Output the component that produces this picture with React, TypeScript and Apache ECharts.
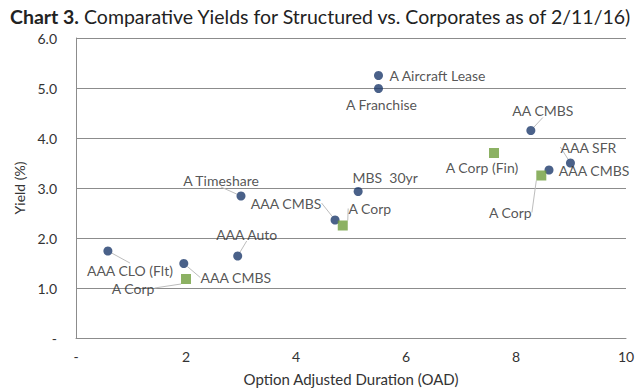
import React, { useEffect, useRef } from "react";
import * as echarts from "echarts";

const structuredNames = [
  "AAA CLO (Flt)", "AAA CMBS", "AAA Auto", "A Timeshare", "AAA CMBS", "MBS  30yr",
  "A Franchise", "A Aircraft Lease", "AA CMBS", "AAA CMBS", "AAA SFR",
];
const structuredOAD = [0.58, 1.96, 2.94, 3.0, 4.71, 5.13, 5.5, 5.5, 8.27, 8.6, 8.99];
const structuredYield = [1.74, 1.49, 1.64, 2.84, 2.36, 2.93, 4.99, 5.25, 4.15, 3.36, 3.5];

const corpNames = ["A Corp", "A Corp", "A Corp (Fin)", "A Corp"];
const corpOAD = [2.0, 4.85, 7.6, 8.46];
const corpYield = [1.18, 2.25, 3.7, 3.25];

const xTicks = [0, 2, 4, 6, 8, 10];
const yTicks = [0, 1, 2, 3, 4, 5, 6];

// label placement (offsets from the marker, in px) and whether a leader line is drawn
const structuredLabelPos: [number, number, boolean][] = [
  [22, 19, true], [52, 14, true], [9, -22, true], [-20, -16, true], [-49, -17, true],
  [27, -14, false], [3, 16, false], [59, 0, false], [12, -20, true], [45, 0, false], [18, -16, true],
];
const corpLabelPos: [number, number, boolean][] = [
  [-53, 9, true], [27, -17, true], [-12, 14, false], [-31, 37, true],
];

const FONT = "Lato, 'Open Sans', sans-serif";
const NAVY = "#1d3a6b";
const GREEN = "#6f9e3c";

export default function App() {
  const ref = useRef<HTMLDivElement>(null);
  useEffect(() => {
    if (!ref.current) return;
    const chart = echarts.init(ref.current, undefined, { renderer: "svg" });
    const mk = (names: string[], xs: number[], ys: number[], pos: [number, number, boolean][]) =>
      names.map((n, i) => ({
        name: n,
        value: [xs[i], ys[i]],
        labelLine: { show: pos[i][2] },
      }));
    const layoutFor = (pos: [number, number, boolean][]) => (p: any) => ({
      dx: pos[p.dataIndex][0],
      dy: pos[p.dataIndex][1],
    });
    const labelCommon = {
      show: true,
      position: "inside",
      formatter: (p: any) => p.name,
      color: "#2a2a2a",
      fontSize: 14,
      fontFamily: FONT,
    };
    const labelLineCommon = {
      show: true,
      lineStyle: { color: "#bdbdbd", width: 1 },
    };
    chart.setOption({
      animation: false,
      backgroundColor: "#ffffff",
      title: {
        text: "{b|Chart 3.} {n|Comparative Yields for Structured vs. Corporates as of 2/11/16)}",
        left: 5,
        top: 1,
        textStyle: {
          rich: {
            b: { fontFamily: FONT, fontWeight: "bold", fontSize: 19.5, color: "#222" },
            n: { fontFamily: FONT, fontWeight: "normal", fontSize: 19.5, color: "#222" },
          },
        },
      },
      grid: { left: 76, right: 14, top: 38, bottom: 53 },
      xAxis: {
        type: "value",
        min: 0,
        max: 10,
        interval: 2,
        name: "Option Adjusted Duration (OAD)",
        nameLocation: "middle",
        nameGap: 33,
        nameTextStyle: { fontFamily: FONT, fontSize: 15, color: "#333" },
        axisLine: { show: true, lineStyle: { color: "#8c8c8c" } },
        axisTick: { show: false },
        splitLine: { show: false },
        axisLabel: {
          margin: 11,
          fontFamily: FONT,
          fontSize: 14,
          color: "#333",
          formatter: (v: number) => (xTicks.includes(v) ? (v === 0 ? "-" : String(v)) : ""),
        },
      },
      yAxis: {
        type: "value",
        min: 0,
        max: 6,
        interval: 1,
        name: "Yield (%)",
        nameLocation: "middle",
        nameGap: 50,
        nameTextStyle: { fontFamily: FONT, fontSize: 14, color: "#333" },
        axisLine: { show: true, lineStyle: { color: "#8c8c8c" } },
        axisTick: { show: false },
        splitLine: { show: true, lineStyle: { color: "#8c8c8c", width: 1 } },
        axisLabel: {
          margin: 19,
          fontFamily: FONT,
          fontSize: 14,
          color: "#333",
          formatter: (v: number) => (yTicks.includes(v) ? (v === 0 ? "-" : v.toFixed(1)) : ""),
        },
      },
      series: [
        {
          name: "Structured",
          type: "scatter",
          symbol: "circle",
          symbolSize: 9,
          itemStyle: { color: NAVY },
          data: mk(structuredNames, structuredOAD, structuredYield, structuredLabelPos),
          label: labelCommon,
          labelLine: labelLineCommon,
          labelLayout: layoutFor(structuredLabelPos),
          z: 3,
        },
        {
          name: "Corporates",
          type: "scatter",
          symbol: "rect",
          symbolSize: 10,
          itemStyle: { color: GREEN },
          data: mk(corpNames, corpOAD, corpYield, corpLabelPos),
          label: labelCommon,
          labelLine: labelLineCommon,
          labelLayout: layoutFor(corpLabelPos),
          z: 4,
        },
      ],
    });
    return () => chart.dispose();
  }, []);
  return (
    <div
      ref={ref}
      style={{ position: "absolute", left: 0, top: 0, width: 640, height: 391 }}
    />
  );
}
